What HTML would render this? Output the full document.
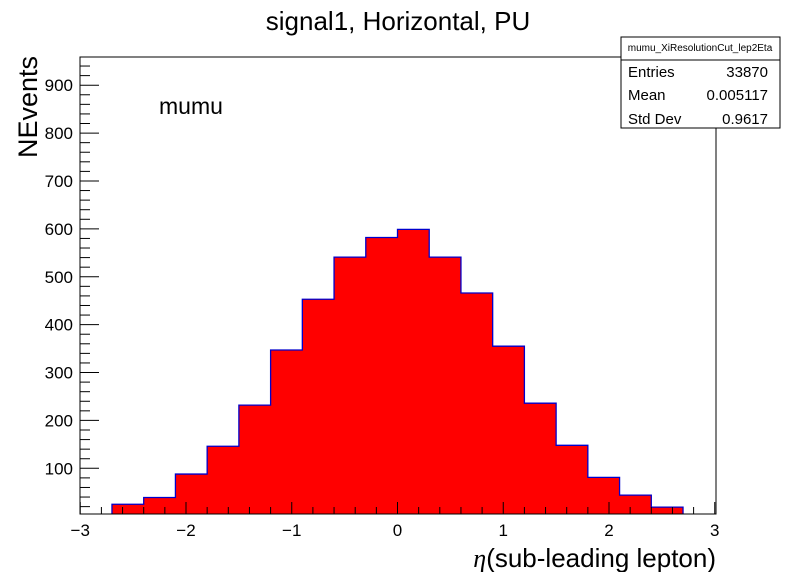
<!DOCTYPE html>
<html><head><meta charset="utf-8"><style>
body{margin:0;background:#fff;font-family:"Liberation Sans",sans-serif}
svg text{font-family:"Liberation Sans",sans-serif}
</style></head><body>
<svg id="c" width="796" height="572" xmlns="http://www.w3.org/2000/svg">
<rect width="796" height="572" fill="#fff"/>
<text x="398" y="30" font-size="26" text-anchor="middle">signal1, Horizontal, PU</text>
<g id="bars"></g>
<rect x="80" y="57" width="636" height="457" fill="none" stroke="#000" stroke-width="1"/>
<g id="axes"></g>
<text x="159" y="114" font-size="23">mumu</text>
<text x="716" y="567" font-size="26" text-anchor="end"><tspan font-family="Liberation Serif" font-style="italic">η</tspan>(sub-leading lepton)</text>
<text transform="translate(37,158) rotate(-90)" font-size="27">NEvents</text>
<g>
<rect x="621" y="37" width="159" height="91" fill="#fff" stroke="#000"/>
<line x1="621" y1="60" x2="780" y2="60" stroke="#000"/>
<text x="700" y="51" font-size="10" text-anchor="middle">mumu_XiResolutionCut_lep2Eta</text>
<text x="628" y="77" font-size="15">Entries</text><text x="768" y="77" font-size="15" text-anchor="end">33870</text>
<text x="628" y="100" font-size="15">Mean</text><text x="768" y="100" font-size="15" text-anchor="end">0.005117</text>
<text x="628" y="124" font-size="15">Std Dev</text><text x="768" y="124" font-size="15" text-anchor="end">0.9617</text>
</g>
</svg>
<script>
const binEdges=[-2.7,-2.4,-2.1,-1.8,-1.5,-1.2,-0.9,-0.6,-0.3,0,0.3,0.6,0.9,1.2,1.5,1.8,2.1,2.4,2.7];
const counts=[25,39,88,146,232,347,453,541,582,599,541,466,355,236,148,81,44,19];
const xTicks=[-3,-2,-1,0,1,2,3];
const yTicks=[100,200,300,400,500,600,700,800,900];
const NS="http://www.w3.org/2000/svg";
const X=v=>397.5+v*105.75;
const Y=v=>516.2-v*0.4789;
function mk(t,a,p){const e=document.createElementNS(NS,t);for(const k in a)e.setAttribute(k,a[k]);p.appendChild(e);return e;}
const bars=document.getElementById('bars');
let d='M'+X(binEdges[0])+' 514';
counts.forEach((c,i)=>{
  d+=' L'+X(binEdges[i])+' '+Y(c)+' L'+X(binEdges[i+1])+' '+Y(c);
});
d+=' L'+X(binEdges[binEdges.length-1])+' 514';
const fillP=mk('path',{d:d+' Z',fill:'#ff0000',stroke:'none'},bars);


const ol=mk('path',{d:d,fill:'none',stroke:'#0000cc','stroke-width':1.3},bars);


const ax=document.getElementById('axes');
for(let v=-3;v<=3.001;v+=0.2){
  const maj=Math.abs(v-Math.round(v))<1e-6;
  const l=mk('line',{x1:X(v),x2:X(v),y1:514,y2:514-(maj?12:7),stroke:'#000'},ax);
  
  
}
xTicks.forEach(v=>{
  const t=mk('text',{x:X(v),y:536,'font-size':17,'text-anchor':'middle'},ax);
  t.textContent=(v<0?'\u2212'+(-v):v);
  
  
});
for(let v=20;v<=960;v+=20){
  if(Y(v)<57)break;
  const maj=v%100===0;
  const l=mk('line',{x1:80,x2:80+(maj?19:10),y1:Y(v),y2:Y(v),stroke:'#000'},ax);
  
  
}
yTicks.forEach(v=>{
  const t=mk('text',{x:73,y:Y(v)+6,'font-size':17,'text-anchor':'end'},ax);
  t.textContent=v;
  
  
});
</script>
</body></html>
